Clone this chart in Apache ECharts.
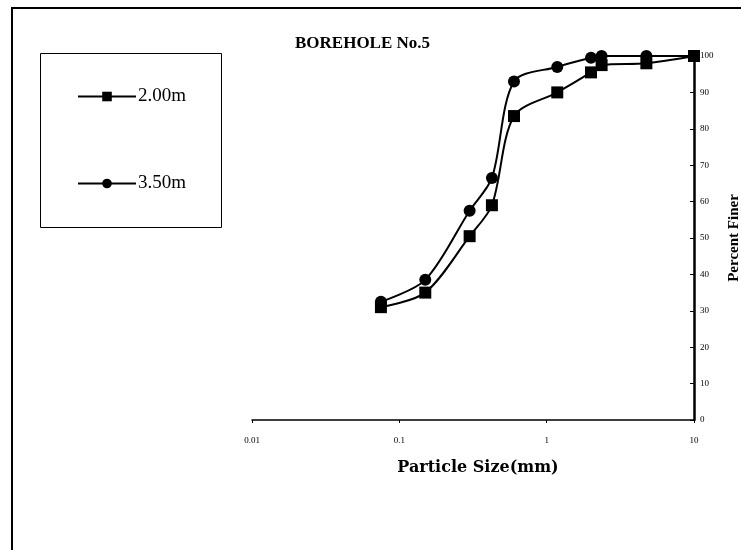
<!DOCTYPE html>
<html>
<head>
<meta charset="utf-8">
<script src="https://cdn.jsdelivr.net/npm/echarts@6/dist/echarts.min.js"></script>
<style>
html, body { margin: 0; padding: 0; background: #fff; }
#chart { width: 741px; height: 550px; }
</style>
</head>
<body>
<div id="chart"></div>
<script>
// sieve sizes (mm)
var sizes = [0.075, 0.15, 0.3, 0.425, 0.6, 1.18, 2.0, 2.36, 4.75, 10];
// percent finer
var depth200 = [31, 35, 50.5, 59, 83.5, 90, 95.5, 97.5, 98, 100];
var depth350 = [32.5, 38.5, 57.5, 66.5, 93, 97, 99.5, 100, 100, 100];
var yTicks = [0, 10, 20, 30, 40, 50, 60, 70, 80, 90, 100];

function pairs(vals) {
    return sizes.map(function (s, i) { return [s, vals[i]]; });
}

var serif = 'Liberation Serif';
var chart = echarts.init(document.getElementById('chart'));
var option = {
    animation: false,
    title: {
        text: 'BOREHOLE No.5',
        left: 290,
        top: 30,
        textStyle: { fontFamily: serif, fontSize: 17, fontWeight: 'bold', color: '#000' }
    },
    legend: {
        orient: 'vertical',
        left: 72,
        top: 82,
        itemWidth: 58,
        itemHeight: 12,
        itemGap: 68,
        textStyle: { fontFamily: serif, fontSize: 19, color: '#000', padding: [0, 0, 0, -3] },
        data: ['2.00m', '3.50m']
    },
    grid: { left: 252, right: 47, top: 56, bottom: 130, outerBoundsMode: 'none' },
    xAxis: {
        type: 'log',
        logBase: 10,
        min: 0.01,
        max: 10,
        name: 'Particle Size(mm)',
        nameLocation: 'middle',
        nameGap: 40,
        nameTextStyle: { fontFamily: 'DejaVu Serif', fontSize: 16, fontWeight: 'bold', color: '#000', padding: [0, 0, 0, 10] },
        axisLine: { lineStyle: { color: '#000', width: 1.5 } },
        axisTick: { length: 3, lineStyle: { color: '#000' } },
        axisLabel: { fontFamily: serif, fontSize: 9, color: '#000', margin: 16 },
        splitLine: { show: false },
        minorTick: { show: false }
    },
    yAxis: {
        type: 'value',
        position: 'right',
        min: 0,
        max: 100,
        interval: 10,
        name: 'Percent Finer',
        nameLocation: 'middle',
        nameGap: 33,
        nameRotate: 90,
        nameTextStyle: { fontFamily: serif, fontSize: 15, fontWeight: 'bold', color: '#000', padding: [0, 0, 6, 0] },
        axisLine: { show: true, lineStyle: { color: '#000', width: 2.5 } },
        axisTick: { show: true, inside: true, length: 4, lineStyle: { color: '#000' } },
        axisLabel: {
            fontFamily: serif, fontSize: 9, color: '#000', margin: 6,
            formatter: function (v) { return yTicks.indexOf(v) >= 0 ? v : ''; }
        },
        splitLine: { show: false }
    },
    series: [{
        name: '2.00m',
        type: 'line',
        smooth: 0.3,
        symbol: 'rect',
        symbolSize: 12,
        lineStyle: { color: '#000', width: 2 },
        itemStyle: { color: '#000' },
        data: pairs(depth200),
        z: 3
    }, {
        name: '3.50m',
        type: 'line',
        smooth: 0.3,
        symbol: 'circle',
        symbolSize: 12,
        lineStyle: { color: '#000', width: 2 },
        itemStyle: { color: '#000' },
        data: pairs(depth350),
        z: 2
    }],
    graphic: [{
        type: 'rect',
        shape: { x: 12, y: 8, width: 800, height: 700 },
        style: { fill: null, stroke: '#000', lineWidth: 2 },
        silent: true
    }, {
        type: 'rect',
        shape: { x: 40.5, y: 53.5, width: 181, height: 174 },
        style: { fill: null, stroke: '#000', lineWidth: 1 },
        silent: true
    }]
};
chart.setOption(option);
</script>
</body>
</html>
